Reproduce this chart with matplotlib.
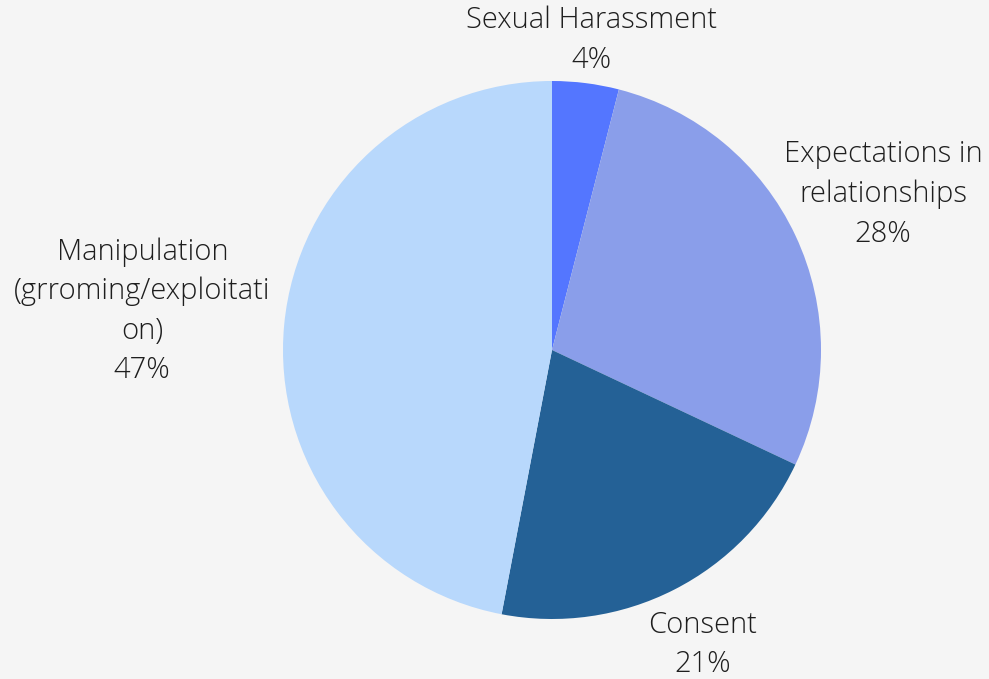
import numpy as np
import matplotlib.pyplot as plt

# topics and their share of responses
topics = ["Sexual Harassment", "Expectations in\nrelationships", "Consent",
          "Manipulation\n(grroming/exploitati\non)"]
shares = [4, 28, 21, 47]
colors = ["#5476FF", "#8A9EEA", "#246196", "#B8D8FC"]
label_dist = [1.16, 1.36, 1.23, 1.53]   # how far each label sits from the centre

plt.rcParams['font.family'] = ['Open Sans', 'DejaVu Sans']

fig = plt.figure(figsize=(9.89, 6.79), dpi=100)
fig.patch.set_facecolor("#F5F5F5")

# pie centre at (552, 350) px, radius 269 px
cx, cy, r = 552, 350, 269
W, H = 989, 679
ax = fig.add_axes([(cx - r) / W, (H - cy - r) / H, 2 * r / W, 2 * r / H])
ax.set_facecolor("none")

wedges, _ = ax.pie(shares, colors=colors, startangle=90, counterclock=False,
                   radius=1, wedgeprops=dict(linewidth=0))

for w, name, val, d in zip(wedges, topics, shares, label_dist):
    mid = np.deg2rad((w.theta1 + w.theta2) / 2)
    ax.text(d * np.cos(mid), d * np.sin(mid), f"{name}\n{val}%",
            ha="center", va="center", fontsize=21, fontweight="light",
            color="#1e1e1e", linespacing=1.45, clip_on=False)

ax.set_xlim(-1, 1)
ax.set_ylim(-1, 1)
ax.set_aspect("equal")
ax.axis("off")

fig.savefig("out.png", dpi=100, facecolor=fig.get_facecolor())
